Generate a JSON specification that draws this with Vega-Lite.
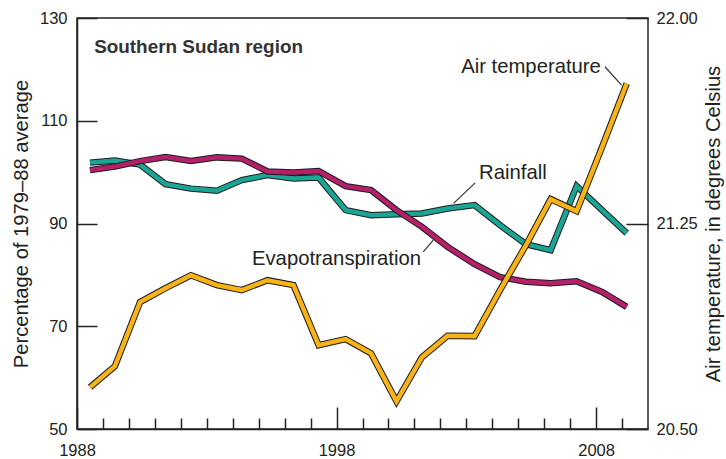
{
  "$schema": "https://vega.github.io/schema/vega-lite/v6.json",
  "width": 571,
  "height": 411,
  "autosize": {"type": "none"},
  "padding": {"left": 77, "top": 18, "right": 78, "bottom": 30},
  "background": "white",
  "config": {
    "view": {"stroke": "#222", "strokeWidth": 1.5},
    "font": "Liberation Sans",
    "axis": {
      "labelFont": "Liberation Sans",
      "labelFontSize": 16.5,
      "labelColor": "#222",
      "titleFont": "Liberation Sans",
      "titleFontSize": 20.2,
      "titleFontWeight": "normal",
      "titleColor": "#222",
      "tickColor": "#222",
      "domainColor": "#222",
      "tickWidth": 1.5,
      "domainWidth": 1.5,
      "grid": false
    }
  },
  "datasets": {
    "pct": [
      {"year": 1988.50, "series": "Rainfall", "value": 101.85},
      {"year": 1989.46, "series": "Rainfall", "value": 102.24},
      {"year": 1990.43, "series": "Rainfall", "value": 101.46},
      {"year": 1991.41, "series": "Rainfall", "value": 97.67},
      {"year": 1992.39, "series": "Rainfall", "value": 96.79},
      {"year": 1993.39, "series": "Rainfall", "value": 96.40},
      {"year": 1994.35, "series": "Rainfall", "value": 98.45},
      {"year": 1995.34, "series": "Rainfall", "value": 99.42},
      {"year": 1996.34, "series": "Rainfall", "value": 98.78},
      {"year": 1997.31, "series": "Rainfall", "value": 98.93},
      {"year": 1998.35, "series": "Rainfall", "value": 92.60},
      {"year": 1999.33, "series": "Rainfall", "value": 91.63},
      {"year": 2000.31, "series": "Rainfall", "value": 91.82},
      {"year": 2001.29, "series": "Rainfall", "value": 91.96},
      {"year": 2002.28, "series": "Rainfall", "value": 92.93},
      {"year": 2003.32, "series": "Rainfall", "value": 93.58},
      {"year": 2004.30, "series": "Rainfall", "value": 89.68},
      {"year": 2005.30, "series": "Rainfall", "value": 85.98},
      {"year": 2006.25, "series": "Rainfall", "value": 84.81},
      {"year": 2007.25, "series": "Rainfall", "value": 97.28},
      {"year": 2008.23, "series": "Rainfall", "value": 92.60},
      {"year": 2009.18, "series": "Rainfall", "value": 88.12},
      {"year": 1988.50, "series": "Evapotranspiration", "value": 100.39},
      {"year": 1989.46, "series": "Evapotranspiration", "value": 101.08},
      {"year": 1990.43, "series": "Evapotranspiration", "value": 102.15},
      {"year": 1991.41, "series": "Evapotranspiration", "value": 102.93},
      {"year": 1992.39, "series": "Evapotranspiration", "value": 102.15},
      {"year": 1993.39, "series": "Evapotranspiration", "value": 102.87},
      {"year": 1994.35, "series": "Evapotranspiration", "value": 102.63},
      {"year": 1995.34, "series": "Evapotranspiration", "value": 100.14},
      {"year": 1996.34, "series": "Evapotranspiration", "value": 99.95},
      {"year": 1997.31, "series": "Evapotranspiration", "value": 100.20},
      {"year": 1998.35, "series": "Evapotranspiration", "value": 97.28},
      {"year": 1999.33, "series": "Evapotranspiration", "value": 96.50},
      {"year": 2000.31, "series": "Evapotranspiration", "value": 92.60},
      {"year": 2001.29, "series": "Evapotranspiration", "value": 89.35},
      {"year": 2002.28, "series": "Evapotranspiration", "value": 85.45},
      {"year": 2003.32, "series": "Evapotranspiration", "value": 82.08},
      {"year": 2004.30, "series": "Evapotranspiration", "value": 79.55},
      {"year": 2005.30, "series": "Evapotranspiration", "value": 78.68},
      {"year": 2006.25, "series": "Evapotranspiration", "value": 78.38},
      {"year": 2007.25, "series": "Evapotranspiration", "value": 78.77},
      {"year": 2008.23, "series": "Evapotranspiration", "value": 76.69},
      {"year": 2009.18, "series": "Evapotranspiration", "value": 73.77}
    ],
    "temp": [
      {"year": 1988.50, "temp": 20.652},
      {"year": 1989.46, "temp": 20.729},
      {"year": 1990.43, "temp": 20.963},
      {"year": 1991.41, "temp": 21.014},
      {"year": 1992.39, "temp": 21.061},
      {"year": 1993.39, "temp": 21.025},
      {"year": 1994.35, "temp": 21.007},
      {"year": 1995.34, "temp": 21.043},
      {"year": 1996.34, "temp": 21.025},
      {"year": 1997.31, "temp": 20.806},
      {"year": 1998.35, "temp": 20.828},
      {"year": 1999.33, "temp": 20.776},
      {"year": 2000.31, "temp": 20.601},
      {"year": 2001.29, "temp": 20.762},
      {"year": 2002.28, "temp": 20.840},
      {"year": 2003.32, "temp": 20.839},
      {"year": 2004.30, "temp": 21.007},
      {"year": 2005.30, "temp": 21.171},
      {"year": 2006.25, "temp": 21.339},
      {"year": 2007.25, "temp": 21.295},
      {"year": 2008.23, "temp": 21.529},
      {"year": 2009.18, "temp": 21.761}
    ],
    "labels": [
      {"text": "Air temperature", "year": 2002.80, "value": 119.35},
      {"text": "Rainfall", "year": 2003.49, "value": 98.58},
      {"text": "Evapotranspiration", "year": 1994.74, "value": 81.89}
    ],
    "heading": [
      {"text": "Southern Sudan region", "year": 1988.66, "value": 123.18}
    ],
    "leaders": [
      {"x1": 2008.34, "y1": 120.51, "x2": 2008.98, "y2": 116.95},
      {"x1": 2003.34, "y1": 97.92, "x2": 2002.51, "y2": 93.91},
      {"x1": 2001.34, "y1": 84.48, "x2": 2001.73, "y2": 86.76}
    ]
  },
  "layer": [
    {
      "data": {"name": "pct"},
      "transform": [{"filter": "datum.series === 'Rainfall'"}],
      "mark": {"type": "line", "color": "#1c1c1c", "strokeWidth": 6.5, "strokeJoin": "miter"},
      "encoding": {
        "x": {
          "field": "year", "type": "quantitative",
          "scale": {"domain": [1988, 2010], "nice": false, "zero": false},
          "axis": {
            "orient": "bottom", "values": [1988, 1998, 2008], "format": "d",
            "tickSize": -22, "labelPadding": 35, "title": null, "labelFlush": false
          }
        },
        "y": {
          "field": "value", "type": "quantitative",
          "scale": {"domain": [50, 130], "nice": false, "zero": false},
          "axis": {
            "orient": "left", "values": [50, 70, 90, 110, 130], "tickSize": -20, "labelPadding": 30,
            "title": "Percentage of 1979\u201388 average", "titlePadding": 8
          }
        }
      }
    },
    {
      "data": {"name": "pct"},
      "transform": [{"filter": "datum.series === 'Rainfall'"}],
      "mark": {"type": "line", "color": "#1aa595", "strokeWidth": 4.5, "strokeJoin": "miter"},
      "encoding": {
        "x": {"field": "year", "type": "quantitative", "axis": null},
        "y": {"field": "value", "type": "quantitative", "scale": {"domain": [50, 130], "nice": false, "zero": false}, "axis": null}
      }
    },
    {
      "data": {"name": "pct"},
      "transform": [{"filter": "datum.series === 'Evapotranspiration'"}],
      "mark": {"type": "line", "color": "#1c1c1c", "strokeWidth": 6.5, "strokeJoin": "miter"},
      "encoding": {
        "x": {"field": "year", "type": "quantitative", "axis": null},
        "y": {"field": "value", "type": "quantitative", "scale": {"domain": [50, 130], "nice": false, "zero": false}, "axis": null}
      }
    },
    {
      "data": {"name": "pct"},
      "transform": [{"filter": "datum.series === 'Evapotranspiration'"}],
      "mark": {"type": "line", "color": "#b4206a", "strokeWidth": 4.5, "strokeJoin": "miter"},
      "encoding": {
        "x": {"field": "year", "type": "quantitative", "axis": null},
        "y": {"field": "value", "type": "quantitative", "scale": {"domain": [50, 130], "nice": false, "zero": false}, "axis": null}
      }
    },
    {
      "data": {"name": "temp"},
      "mark": {"type": "line", "color": "#1c1c1c", "strokeWidth": 6.5, "strokeJoin": "miter"},
      "encoding": {
        "x": {
          "field": "year", "type": "quantitative",
          "axis": {
            "orient": "bottom",
            "values": [1989, 1990, 1991, 1992, 1993, 1994, 1995, 1996, 1997, 1999, 2000, 2001, 2002, 2003, 2004, 2005, 2006, 2007, 2009],
            "tickSize": -11, "labels": false, "domain": false, "title": null
          }
        },
        "y": {
          "field": "temp", "type": "quantitative",
          "scale": {"domain": [20.5, 22], "nice": false, "zero": false},
          "axis": {
            "orient": "right", "values": [20.5, 21.25, 22], "format": ".2f",
            "tickSize": -22, "labelPadding": 30, "domain": false,
            "title": "Air temperature, in degrees Celsius",
            "titleAngle": -90, "titleBaseline": "top", "titlePadding": 6
          }
        }
      }
    },
    {
      "data": {"name": "temp"},
      "mark": {"type": "line", "color": "#f8b417", "strokeWidth": 4.5, "strokeJoin": "miter"},
      "encoding": {
        "x": {"field": "year", "type": "quantitative", "axis": null},
        "y": {"field": "temp", "type": "quantitative", "scale": {"domain": [20.5, 22], "nice": false, "zero": false}, "axis": null}
      }
    },
    {
      "data": {"name": "leaders"},
      "mark": {"type": "rule", "color": "#333", "strokeWidth": 1.2},
      "encoding": {
        "x": {"field": "x1", "type": "quantitative", "axis": null},
        "x2": {"field": "x2"},
        "y": {"field": "y1", "type": "quantitative", "scale": {"domain": [50, 130], "nice": false, "zero": false}, "axis": null},
        "y2": {"field": "y2"}
      }
    },
    {
      "data": {"name": "labels"},
      "mark": {"type": "text", "align": "left", "baseline": "alphabetic", "font": "Liberation Sans", "fontSize": 20.3, "color": "#222"},
      "encoding": {
        "x": {"field": "year", "type": "quantitative", "axis": null},
        "y": {"field": "value", "type": "quantitative", "scale": {"domain": [50, 130], "nice": false, "zero": false}, "axis": null},
        "text": {"field": "text"}
      }
    },
    {
      "data": {"name": "heading"},
      "mark": {"type": "text", "align": "left", "baseline": "alphabetic", "font": "Liberation Sans", "fontSize": 18.9, "fontWeight": "bold", "color": "#333"},
      "encoding": {
        "x": {"field": "year", "type": "quantitative", "axis": null},
        "y": {"field": "value", "type": "quantitative", "scale": {"domain": [50, 130], "nice": false, "zero": false}, "axis": null},
        "text": {"field": "text"}
      }
    }
  ],
  "resolve": {"scale": {"y": "independent"}, "axis": {"x": "independent", "y": "independent"}}
}
